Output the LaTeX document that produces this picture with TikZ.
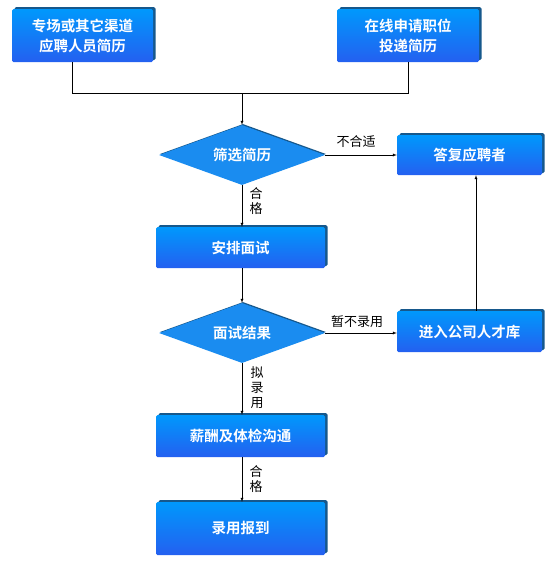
\documentclass[tikz,border=0pt]{standalone}
\usepackage{fontspec}
\newfontfamily\cjk[BoldFont=* Bold]{Noto Sans CJK SC}
\usetikzlibrary{shapes.geometric,shadows,arrows}
\definecolor{boxtop}{RGB}{0,152,252}
\definecolor{boxbot}{RGB}{36,96,240}
\definecolor{boxshade}{RGB}{22,88,140}
\definecolor{diafill}{RGB}{26,140,240}

\begin{document}
\begin{tikzpicture}[x=1pt,y=-1pt,
    stagebox/.style={rectangle,rounded corners=1.5pt,inner sep=0pt,
      top color=boxtop,bottom color=boxbot,
      drop shadow={shadow xshift=2.5pt,shadow yshift=2pt,fill=boxshade,opacity=1},
      text=white,font=\cjk\bfseries\fontsize{14.5}{20}\selectfont,align=center},
    checkdia/.style={diamond,aspect=2.77,inner sep=0pt,minimum width=166pt,
      minimum height=60pt,fill=diafill,
      drop shadow={shadow xshift=1pt,shadow yshift=1pt,fill=boxshade,opacity=1},
      text=white,font=\cjk\bfseries\fontsize{14.5}{20}\selectfont},
    flowlabel/.style={inner sep=0pt,font=\cjk\fontsize{13}{15}\selectfont,align=center},
    flow/.style={-latex,thin}]
    \useasboundingbox (0,0) rectangle (553,566);
    % two ways in
    \node[stagebox,minimum width=141pt,minimum height=53pt] (channel) at (82.5,35.5)
      {专场或其它渠道\\应聘人员简历};
    \node[stagebox,minimum width=142pt,minimum height=53pt] (online) at (408,35.5)
      {在线申请职位\\投递简历};
    % main column
    \node[checkdia] (screen) at (242,155) {筛选简历};
    \node[stagebox,minimum width=169pt,minimum height=41pt] (arrange) at (240.5,247.5) {安排面试};
    \node[checkdia] (result) at (242,333) {面试结果};
    \node[stagebox,minimum width=169pt,minimum height=42pt] (salary) at (240.5,436) {薪酬及体检沟通};
    \node[stagebox,minimum width=169pt,minimum height=53pt] (report) at (240.5,528.5) {录用报到};
    % side column
    \node[stagebox,minimum width=145pt,minimum height=40pt] (reply) at (469.5,155) {答复应聘者};
    \node[stagebox,minimum width=145pt,minimum height=41pt] (pool) at (469.5,331.5) {进入公司人才库};
    % connectors
    \coordinate (merge) at (242,93);
    \draw[thin] ([xshift=-10.5pt]channel.south) |- (merge);
    \draw[thin] (online.south) |- (merge);
    \draw[flow] (merge) -- (screen.north);
    \draw[flow] (screen.east) -- (reply.west |- screen.east);
    \draw[flow] (screen.south) -- (screen.south |- arrange.north);
    \draw[flow] (arrange.south -| screen.south) -- (result.north);
    \draw[flow] (result.east) -- (pool.west |- result.east);
    \draw[flow] (result.south) -- (result.south |- salary.north);
    \draw[flow] (salary.south -| result.south) -- (result.south |- report.north);
    \draw[flow] ([xshift=6.5pt]pool.north) -- ([xshift=6.5pt]reply.south);
    % labels
    \node[flowlabel] (nofit) at (356,142) {不合适};
    \node[flowlabel] (notnow) at (357,322) {暂不录用};
    \node[flowlabel] (pass1) at (256,201) {合\\格};
    \node[flowlabel] (hire) at (257,388) {拟\\录\\用};
    \node[flowlabel] (pass2) at (256,479) {合\\格};
\end{tikzpicture}
\end{document}
